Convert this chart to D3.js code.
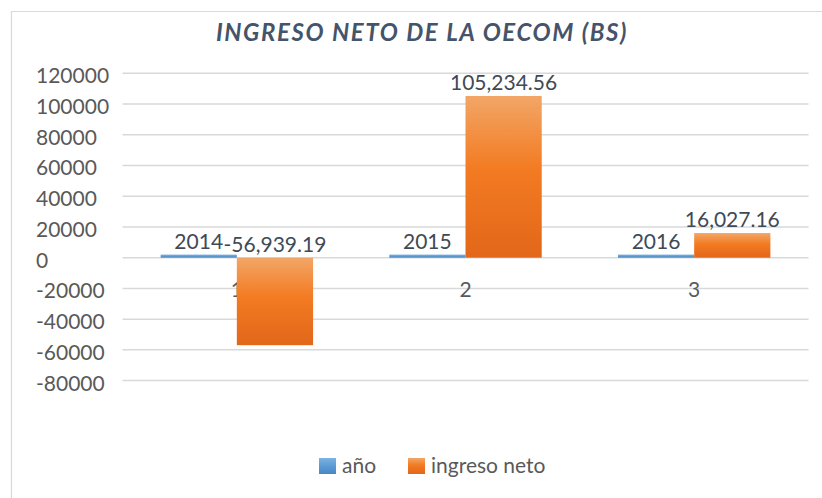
<!DOCTYPE html>
<html>
<head>
<meta charset="utf-8">
<script src="https://cdn.jsdelivr.net/npm/d3@7"></script>
<style>
  html, body { margin: 0; padding: 0; background: #fff; }
  svg { display: block; font-family: Lato, "Open Sans", sans-serif; }
</style>
</head>
<body>
<div id="chart"></div>
<script>
var categories  = ["1", "2", "3"];
var anio        = [2014, 2015, 2016];
var ingresoNeto = [-56939.19, 105234.56, 16027.16];
var yTicks      = [-80000, -60000, -40000, -20000, 0, 20000, 40000, 60000, 80000, 100000, 120000];
var seriesNames = ["año", "ingreso neto"];

var width = 822, height = 498;
var margin = {top: 73.3, right: 13.5, bottom: 117.4, left: 122.5};

var fmt = d3.formatLocale({decimal: ".", thousands: ",", grouping: [3], currency: ["", ""], minus: "-"}).format(",.2f");

var rows = categories.map(function(c, i) {
  return {cat: c, values: [
    {key: "anio", value: anio[i], label: String(anio[i])},
    {key: "neto", value: ingresoNeto[i], label: fmt(ingresoNeto[i])}
  ]};
});

var svg = d3.select("#chart").append("svg")
    .attr("width", width)
    .attr("height", height);

var defs = svg.append("defs");
function grad(id, stops) {
  var g = defs.append("linearGradient")
      .attr("id", id)
      .attr("x1", 0).attr("y1", 0).attr("x2", 0).attr("y2", 1);
  stops.forEach(function(s) {
    g.append("stop").attr("offset", s[0]).attr("stop-color", s[1]);
  });
}
grad("gNeto", [["0%", "#f2a667"], ["45%", "#f37b22"], ["100%", "#e2671a"]]);
grad("gAnio", [["0%", "#7fb2e2"], ["50%", "#5b9bd5"], ["100%", "#4a86c2"]]);

// chart frame (left and top edge only, like the crop)
svg.append("path")
    .attr("d", "M11.5,498V11.5H822")
    .attr("fill", "none")
    .attr("stroke", "#d9d9d9")
    .attr("stroke-width", 1.2);

svg.append("text")
    .attr("x", width / 2 + 11)
    .attr("y", 41)
    .attr("text-anchor", "middle")
    .attr("fill", "#44546a")
    .attr("font-size", 24)
    .attr("font-weight", "bold")
    .attr("font-style", "italic")
    .attr("letter-spacing", 1.6)
    .text("INGRESO NETO DE LA OECOM (BS)");

var x0 = d3.scaleBand()
    .domain(categories)
    .range([margin.left, width - margin.right])
    .paddingInner(1 / 3)
    .paddingOuter(1 / 6);

var x1 = d3.scaleBand()
    .domain(["anio", "neto"])
    .range([0, x0.bandwidth()]);

var y = d3.scaleLinear()
    .domain([-80000, 120000])
    .range([height - margin.bottom, margin.top]);

var color = {anio: "url(#gAnio)", neto: "url(#gNeto)"};

// gridlines
svg.append("g")
    .selectAll("line")
    .data(yTicks)
  .enter().append("line")
    .attr("x1", margin.left)
    .attr("x2", width - margin.right)
    .attr("y1", function(d) { return y(d); })
    .attr("y2", function(d) { return y(d); })
    .attr("stroke", "#d9d9d9")
    .attr("stroke-width", 1.5);

// y tick labels, left aligned like excel did
svg.append("g")
    .selectAll("text")
    .data(yTicks)
  .enter().append("text")
    .attr("x", 36)
    .attr("y", function(d) { return y(d) + 10; })
    .attr("fill", "#595959")
    .attr("font-size", 21)
    .text(function(d) { return String(d); });

// category labels sit by the zero line, under the bars
var xAxis = d3.axisBottom(x0).tickSize(0).tickPadding(0);
var gx = svg.append("g")
    .attr("transform", "translate(0," + y(0) + ")")
    .call(xAxis);
gx.select(".domain").remove();
gx.selectAll("text")
    .attr("dy", null)
    .attr("y", 39)
    .attr("fill", "#595959")
    .attr("font-size", 21)
    .attr("font-family", "Lato, sans-serif");

var groups = svg.append("g")
    .selectAll("g")
    .data(rows)
  .enter().append("g")
    .attr("transform", function(d) { return "translate(" + x0(d.cat) + ",0)"; });

groups.selectAll("rect")
    .data(function(d) { return d.values; })
  .enter().append("rect")
    .attr("x", function(d) { return x1(d.key); })
    .attr("y", function(d) { return y(Math.max(0, d.value)); })
    .attr("width", x1.bandwidth())
    .attr("height", function(d) { return Math.abs(y(d.value) - y(0)); })
    .attr("fill", function(d) { return color[d.key]; });

groups.selectAll("text")
    .data(function(d) { return d.values; })
  .enter().append("text")
    .attr("x", function(d) { return x1(d.key) + x1.bandwidth() / 2; })
    .attr("y", function(d) { return y(Math.max(0, d.value)) - 6; })
    .attr("text-anchor", "middle")
    .attr("fill", "#404a56")
    .attr("font-size", 21)
    .text(function(d) { return d.label; });

// legend
var legend = svg.append("g")
    .attr("transform", "translate(0,458)");
var lx = [319, 408];
seriesNames.forEach(function(name, i) {
  legend.append("rect")
      .attr("x", lx[i])
      .attr("y", 0)
      .attr("width", 17)
      .attr("height", 16)
      .attr("fill", i === 0 ? color.anio : color.neto);
  legend.append("text")
      .attr("x", lx[i] + 23)
      .attr("y", 15)
      .attr("fill", "#595959")
      .attr("font-size", 21)
      .text(name);
});
</script>
</body>
</html>
